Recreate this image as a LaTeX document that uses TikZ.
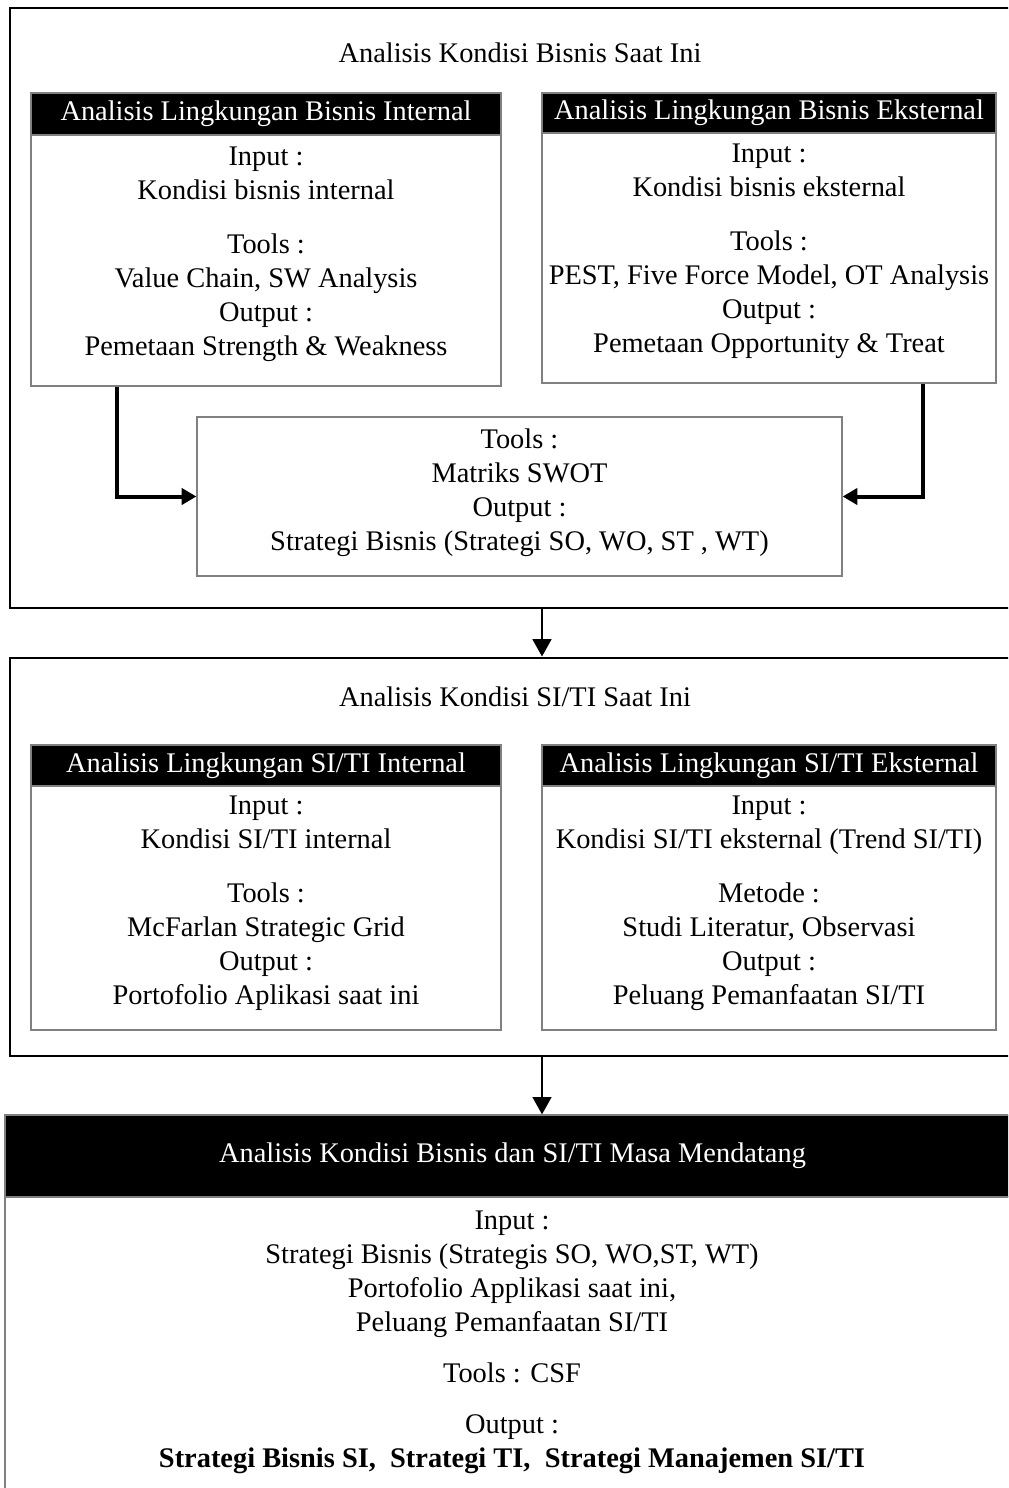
\documentclass[tikz,border=0pt]{standalone}
\usepackage{fontspec}
\setmainfont{Liberation Serif}
\usetikzlibrary{arrows.meta,positioning}

\begin{document}
\begin{tikzpicture}[x=0.75pt,y=-0.75pt,font=\fontsize{21.3}{25.5}\selectfont]
  \tikzstyle{frame}=[draw=black,line width=2.2pt,rectangle,inner sep=0pt]
  \tikzstyle{head}=[draw=gray,line width=0.9pt,fill=black,text=white,rectangle,inner sep=0pt]
  \tikzstyle{body}=[draw=gray,line width=0.9pt,rectangle,inner sep=0pt]
  \tikzstyle{txt}=[align=center,inner sep=0pt,yshift=-2.25pt]
  \tikzstyle{feed}=[line width=3pt,-{Triangle[length=11pt,width=12pt]}]
  \tikzstyle{flow}=[line width=1.8pt,-{Triangle[length=13pt,width=14pt]}]

  \useasboundingbox (0,0) rectangle (1008,1488);
  \clip (0,0) rectangle (1008,1488);

  % bisnis saat ini
  \node[frame, minimum width=757.5pt, minimum height=450pt] (bisnis) at (515,308) {};
  \node[txt] (bisnis_t) at (520,50) {Analisis Kondisi Bisnis Saat Ini};

  \node[head, minimum width=352.5pt, minimum height=31.5pt] (bi_h) at (266,114) {Analisis Lingkungan Bisnis Internal};
  \node[body, minimum width=352.5pt, minimum height=188.25pt] (bi_b) at (266,260.5) {};
  \node[txt] (bi_t) at (266,251) {Input :\\Kondisi bisnis internal\\[15pt]Tools :\\Value Chain, SW Analysis\\Output :\\Pemetaan Strength \& Weakness};

  \node[head, minimum width=340.5pt, minimum height=30pt] (be_h) at (769,113) {Analisis Lingkungan Bisnis Eksternal};
  \node[body, minimum width=340.5pt, minimum height=187.5pt] (be_b) at (769,258) {};
  \node[txt] (be_t) at (769,248.5) {Input :\\Kondisi bisnis eksternal\\[15pt]Tools :\\PEST, Five Force Model, OT Analysis\\Output :\\Pemetaan Opportunity \& Treat};

  \node[body, minimum width=483.75pt, minimum height=119.25pt] (swot) at (519.5,496.5) {};
  \node[txt] (swot_t) at (519.5,490) {Tools :\\Matriks SWOT\\Output :\\Strategi Bisnis (Strategi SO, WO, ST , WT)};

  \draw[feed] ([xshift=65pt]bi_b.south west) |- (swot.west);
  \draw[feed] ([xshift=-55.5pt]be_b.south east) |- (swot.east);

  % siti saat ini
  \node[frame, minimum width=757.5pt, minimum height=298.5pt] (siti) at (515,857) {};
  \node[txt] (siti_t) at (515,694) {Analisis Kondisi SI/TI Saat Ini};

  \node[head, minimum width=352.5pt, minimum height=30.75pt] (si_h) at (266,765.5) {Analisis Lingkungan SI/TI Internal};
  \node[body, minimum width=352.5pt, minimum height=183pt] (si_b) at (266,908) {};
  \node[txt] (si_t) at (266,900.5) {Input :\\Kondisi SI/TI internal\\[15pt]Tools :\\McFarlan Strategic Grid\\Output :\\Portofolio Aplikasi saat ini};

  \node[head, minimum width=340.5pt, minimum height=30.75pt] (se_h) at (769,765.5) {Analisis Lingkungan SI/TI Eksternal};
  \node[body, minimum width=340.5pt, minimum height=183pt] (se_b) at (769,908) {};
  \node[txt] (se_t) at (769,900.5) {Input :\\Kondisi SI/TI eksternal (Trend SI/TI)\\[15pt]Metode :\\Studi Literatur, Observasi\\Output :\\Peluang Pemanfaatan SI/TI};

  % masa mendatang
  \node[head, minimum width=761.25pt, minimum height=61.5pt] (mendatang) at (512.5,1156) {Analisis Kondisi Bisnis dan SI/TI Masa Mendatang};
  \node[body, minimum width=761.25pt, minimum height=227.25pt] (mend_b) at (512.5,1348.5) {};
  \node[txt] (mend_t) at (512,1339) {Input :\\Strategi Bisnis (Strategis SO, WO,ST, WT)\\Portofolio Applikasi saat ini,\\Peluang Pemanfaatan SI/TI\\[12.75pt]Tools : CSF\\[12.75pt]Output :\\\textbf{Strategi Bisnis SI,\ \ Strategi TI,\ \ Strategi Manajemen SI/TI}};

  \coordinate (arr) at (542,0);
  \draw[flow] (bisnis.south -| arr) -- (siti.north -| arr);
  \draw[flow] (siti.south -| arr) -- (mendatang.north -| arr);
\end{tikzpicture}
\end{document}
